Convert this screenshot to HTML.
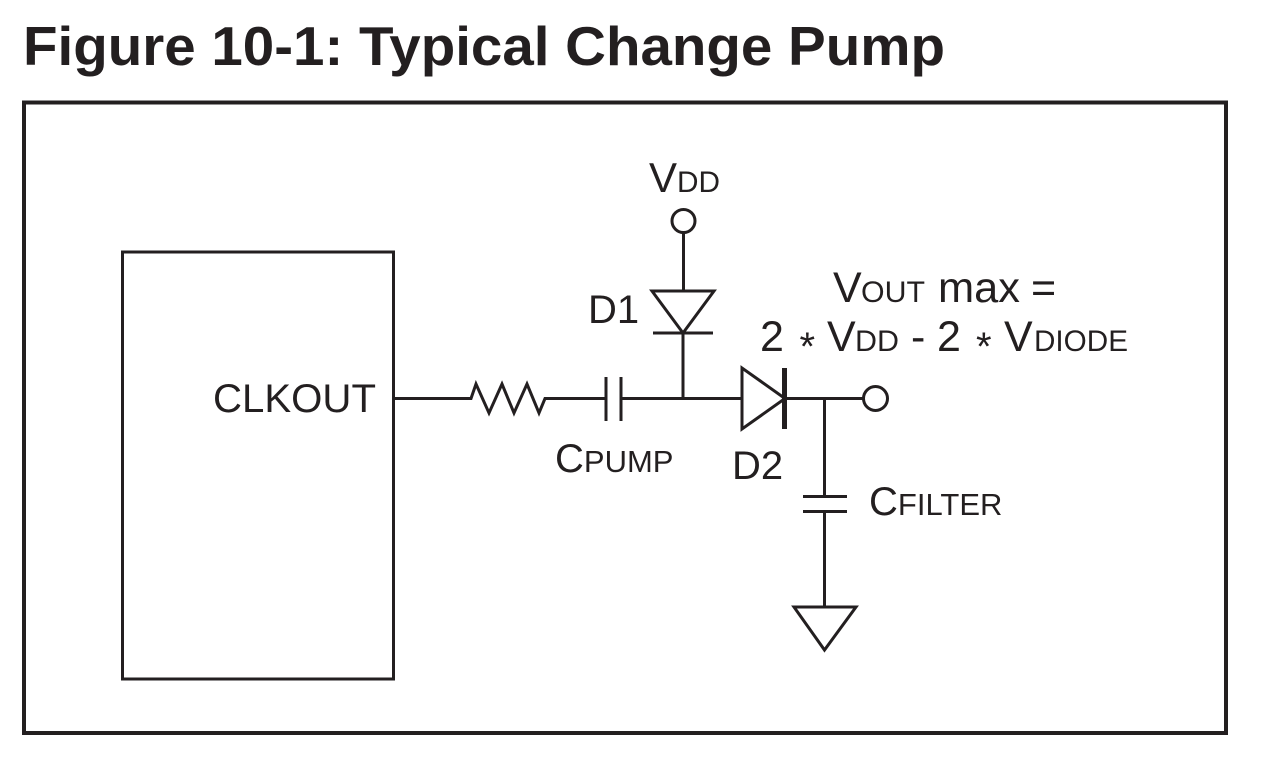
<!DOCTYPE html>
<html>
<head>
<meta charset="utf-8">
<style>
html,body{margin:0;padding:0;background:#fff;width:1280px;height:768px;overflow:hidden}
svg{display:block}
text{font-family:"Liberation Sans",Arial,sans-serif;fill:#231f20}
</style>
</head>
<body>
<svg width="1280" height="768" viewBox="0 0 1280 768" xmlns="http://www.w3.org/2000/svg">
<rect width="1280" height="768" fill="#fff"/>
<text x="23" y="65" font-size="55" font-weight="700" textLength="922" lengthAdjust="spacingAndGlyphs">Figure 10-1: Typical Change Pump</text>
<g fill="none" stroke="#231f20" stroke-width="3">
<rect x="24" y="102.5" width="1202" height="630.5" stroke-width="4"/>
<rect x="122.5" y="252" width="271" height="427"/>
<!-- VDD + D1 -->
<circle cx="683.5" cy="221" r="11.5"/>
<path d="M683.5 233V291"/>
<path d="M652 291H714L683 333Z"/>
<path d="M653 333H713"/>
<path d="M683 333V398"/>
<!-- main line -->
<path d="M394 398.5H471L476 384L489 413L502 384L514 413L527 384L539 413L545 398.5H606"/>
<path d="M606 377V421"/>
<path d="M621 377V421"/>
<path d="M621 398.5H742"/>
<!-- D2 -->
<path d="M742 368V429L785 398.5Z"/>
<path d="M784.5 368V429" stroke-width="5"/>
<path d="M785 398.5H863"/>
<circle cx="875.5" cy="398.500" r="12"/>
<!-- CFILTER -->
<path d="M824.5 398.500V496.500"/>
<path d="M803 496.500H847"/>
<path d="M803 511.500H847"/>
<path d="M824.5 511.500V607"/>
<path d="M794 607H856L824.500 650Z"/>
</g>
<g font-size="40">
<text x="213" y="412" textLength="163" lengthAdjust="spacingAndGlyphs">CLKOUT</text>
<text x="588" y="323">D1</text>
<text x="732" y="479">D2</text>
<text x="649" y="192" font-size="42">V</text>
<text x="677" y="192" font-size="30" textLength="43" lengthAdjust="spacingAndGlyphs">DD</text>
<text x="555" y="472">C<tspan font-size="31">PUMP</tspan></text>
<text x="869" y="515">C<tspan font-size="31">FILTER</tspan></text>

<text x="833" y="302" font-size="43">V</text>
<text x="861" y="302" font-size="30" textLength="64" lengthAdjust="spacingAndGlyphs">OUT</text>
<text x="938" y="302" font-size="43" textLength="82" lengthAdjust="spacingAndGlyphs">max</text>
<text x="1031" y="302" font-size="43">=</text>

<text x="760" y="351" font-size="43">2</text>
<text x="799.5" y="360" font-size="40">*</text>
<text x="827" y="351" font-size="43">V</text>
<text x="855" y="351" font-size="30" textLength="44" lengthAdjust="spacingAndGlyphs">DD</text>
<text x="911" y="351" font-size="43">-</text>
<text x="937" y="351" font-size="43">2</text>
<text x="976" y="360" font-size="40">*</text>
<text x="1004" y="351" font-size="43">V</text>
<text x="1034" y="351" font-size="30" textLength="94" lengthAdjust="spacingAndGlyphs">DIODE</text>
</g>
</svg>
</body>
</html>
